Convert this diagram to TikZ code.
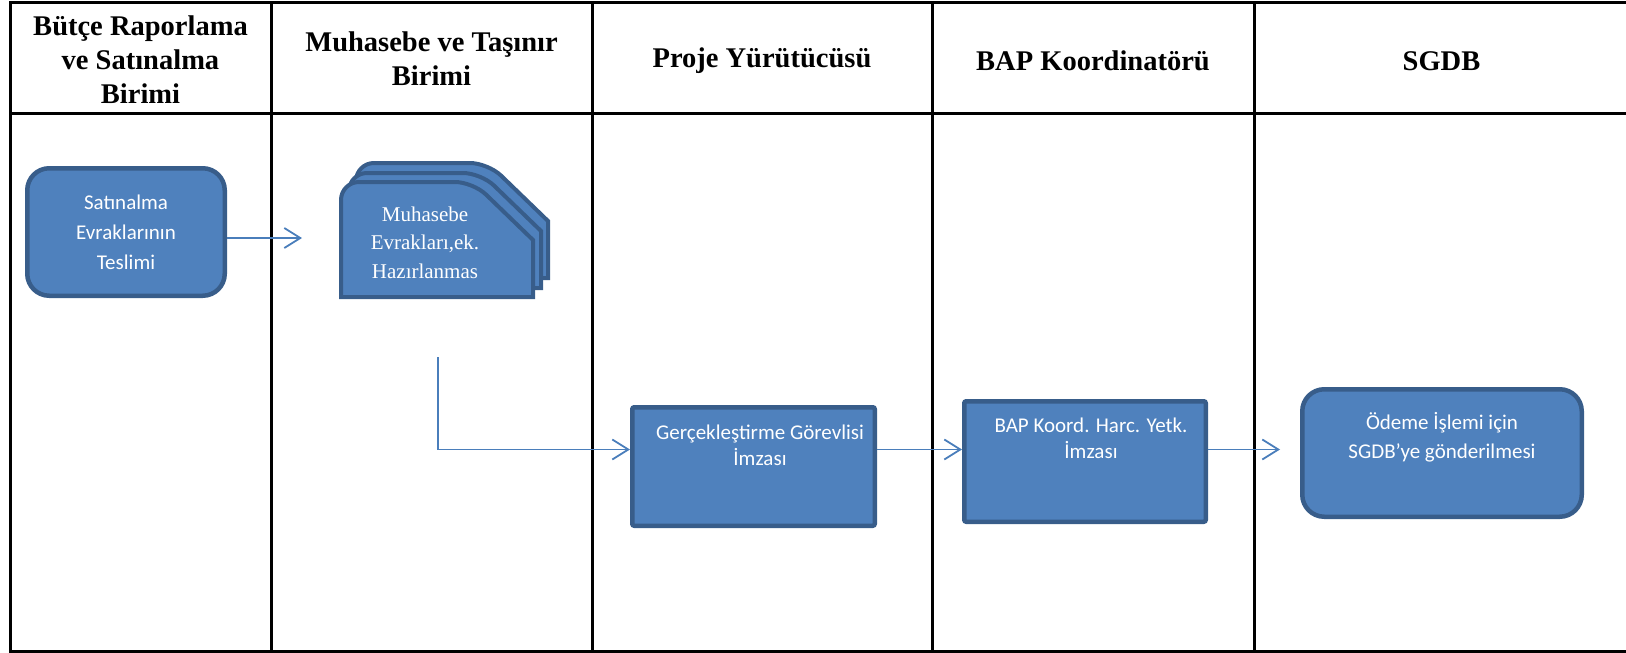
\documentclass[tikz,border=0pt]{standalone}
\usepackage{fontspec}
\setmainfont{Liberation Serif}
\newfontfamily\calibri{Carlito}
\usetikzlibrary{arrows.meta}

\definecolor{boxfill}{HTML}{4F81BD}
\definecolor{boxline}{HTML}{385D8A}
\definecolor{flowline}{HTML}{4A7EBB}

\begin{document}
\begin{tikzpicture}[x=1pt, y=-1pt,
  lane/.style={line width=3pt, black},
  head/.style={font=\fontsize{28.5}{34}\selectfont\bfseries, align=center},
  roundbox/.style={draw=boxline, fill=boxfill, line width=4.5pt, rounded corners=22pt, inner sep=0pt},
  rectbox/.style={draw=boxline, fill=boxfill, line width=4.5pt, rounded corners=2pt, inner sep=0pt},
  docbox/.style={draw=boxline, fill=boxfill, line width=4pt},
  boxtxt/.style={text=white, align=center, font=\calibri\fontsize{21}{26}\selectfont},
  flow/.style={draw=flowline, line width=1.8pt, -{Straight Barb[length=16pt, width=20pt]}}]

  % Frame of the picture
  \useasboundingbox (0,0) rectangle (1626,653);

  % Swim lane table
  \draw[lane] (10,2) rectangle (1629,651.5);
  \draw[lane] (10,113.7) -- (1629,113.7);
  \foreach \xx in {271,592,932,1254}
    \draw[lane] (\xx,2) -- (\xx,651.5);

  % Lane headers
  \node[head] (hsat) at (140.5,60) {Bütçe Raporlama\\ve Satınalma\\Birimi};
  \node[head] (hmuh) at (431.5,59) {Muhasebe ve Taşınır\\Birimi};
  \node[head] (hpro) at (762,61) {Proje Yürütücüsü};
  \node[head] (hbap) at (1093,61) {BAP Koordinatörü};
  \node[head] (hsgdb) at (1441.5,61) {SGDB};

  % First step: delivery of the purchase papers
  \node[roundbox, boxtxt, font=\calibri\fontsize{21}{30}\selectfont,
        minimum width=197.5pt, minimum height=127.5pt] (sat) at (126,232)
        {Satınalma\\Evraklarının\\Teslimi};

  % Stack of documents (three copies, back to front)
  \foreach \dx/\dy in {15/-19, 8/-9, 0/0}
    \draw[docbox, shift={(\dx,\dy)}] (341,240) [rounded corners=18pt] -- (341,182) -- (473,182)
      [sharp corners] -- (533,240) -- (533,297) -- (341,297) -- cycle;
  \node[text=white, align=center, font=\fontsize{21}{28.5}\selectfont] (muh) at (425,242.5)
    {Muhasebe\\Evrakları,ek.\\Hazırlanmas};

  % Signature boxes
  \node[rectbox, minimum width=242.5pt, minimum height=118.5pt] (gercek) at (753.5,466.5) {};
  \node[boxtxt] (gercektxt) at (760,445) {Gerçekleştirme Görevlisi\\İmzası};

  \node[rectbox, minimum width=241.5pt, minimum height=120.5pt] (bap) at (1085,461.5) {};
  \node[boxtxt] (baptxt) at (1091,438) {BAP Koord. Harc. Yetk.\\İmzası};

  % Last step: sending to SGDB
  \node[roundbox, minimum width=279.5pt, minimum height=127.5pt] (sgdb) at (1442,453) {};
  \node[boxtxt, font=\calibri\fontsize{21}{29}\selectfont] (sgdbtxt) at (1442,437)
    {Ödeme İşlemi için\\SGDB’ye gönderilmesi};

  % Connectors
  \coordinate (row) at (0,449.5);
  \coordinate (a1) at (302,238);
  \coordinate (m1) at (438,357);
  \draw[flow] (sat.east |- a1) -- (a1);
  \draw[flow] (m1) |- (gercek.west |- row);
  \draw[flow] (gercek.east |- row) -- (bap.west |- row);
  \draw[flow, shorten >=20pt] (bap.east |- row) -- (sgdb.west |- row);

\end{tikzpicture}
\end{document}
